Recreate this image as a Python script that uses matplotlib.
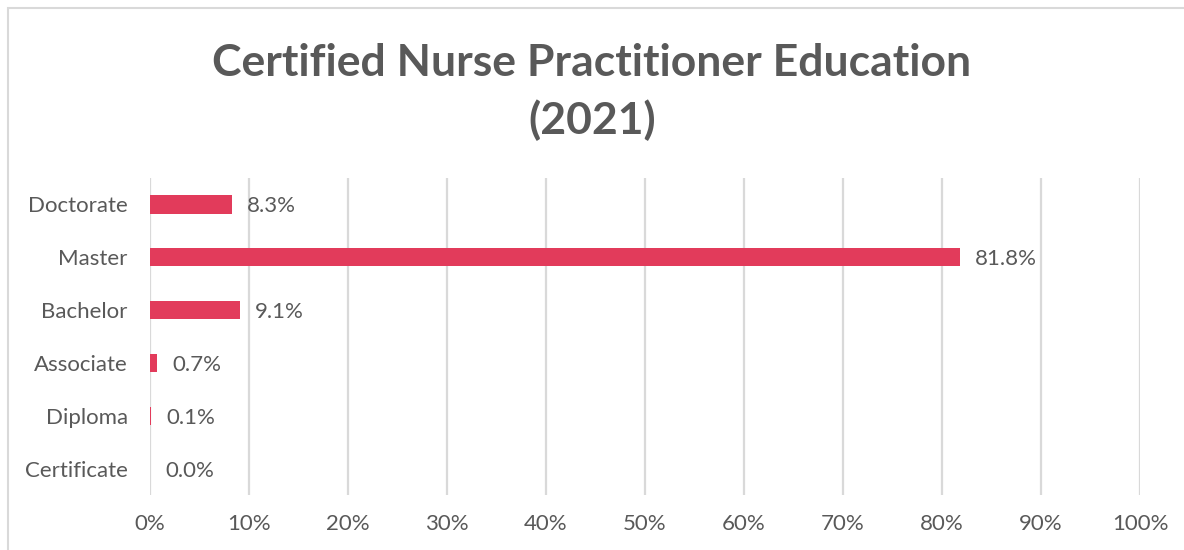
import matplotlib
matplotlib.use("Agg")
from matplotlib import pyplot as plt
from matplotlib.patches import Rectangle
from matplotlib.ticker import FuncFormatter

# values (percent)
categories = ["Certificate", "Diploma", "Associate", "Bachelor", "Master", "Doctorate"]
shares = [0.0, 0.1, 0.7, 9.1, 81.8, 8.3]
x_ticks = [0, 10, 20, 30, 40, 50, 60, 70, 80, 90, 100]

bar_color = "#E23B5B"
text_color = "#595959"
grid_color = "#D9D9D9"

plt.rcParams["font.family"] = ["Lato", "DejaVu Sans"]

fig = plt.figure(figsize=(11.84, 5.5), dpi=100)
ax = fig.add_axes([150/1184, 1 - 495/550, 990/1184, 317/550])

ypos = list(range(len(categories)))
ax.barh(ypos, shares, height=0.35, color=bar_color, zorder=3)

for y, v in zip(ypos, shares):
    ax.annotate(f"{v:.1f}%", (v, y), xytext=(15, -2), textcoords="offset pixels",
                va="center", ha="left", fontsize=16, color=text_color)

ax.set_xlim(0, 100)
ax.set_ylim(-0.5, len(categories) - 0.5)
ax.set_xticks(x_ticks)
ax.xaxis.set_major_formatter(FuncFormatter(lambda v, p: f"{v:.0f}%"))
ax.set_yticks(ypos)
ax.set_yticklabels(categories)

ax.grid(axis="x", color=grid_color, linewidth=1.6, zorder=0)
ax.grid(axis="y", visible=False)
for s in ax.spines.values():
    s.set_visible(False)
ax.tick_params(axis="both", length=0, labelsize=16, colors=text_color)
ax.tick_params(axis="y", pad=16)
ax.tick_params(axis="x", pad=14)

fig.text(0.5, 1 - 92/550, "Certified Nurse Practitioner Education\n(2021)",
         ha="center", va="center", fontsize=32, fontweight="bold",
         color=text_color, linespacing=1.5)

# light chart-area border, running off the right and bottom edges
fig.patches.append(Rectangle((8/1184, -0.1), 1.2, 1.1 - 8/550, transform=fig.transFigure,
                             fill=False, edgecolor=grid_color, linewidth=1.5))

fig.savefig("out.png", dpi=100)
